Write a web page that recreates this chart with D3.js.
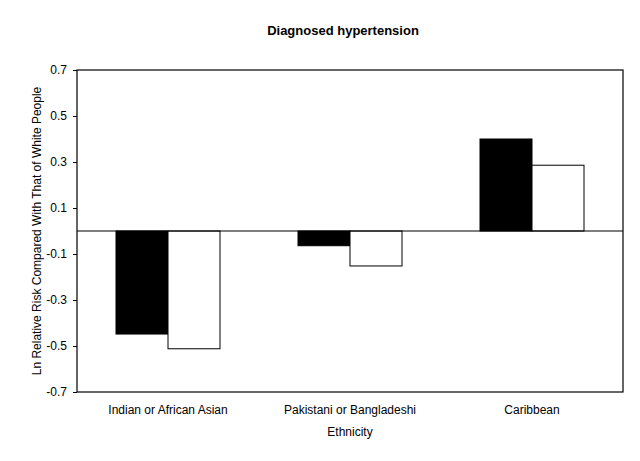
<!DOCTYPE html>
<html><head><meta charset="utf-8">
<script src="https://cdn.jsdelivr.net/npm/d3@7"></script>
<style>body{margin:0;background:#fff}svg{display:block}text{font-family:"Liberation Sans",Arial,sans-serif;fill:#000}</style>
</head><body>
<script>
const categories = ["Indian or African Asian", "Pakistani or Bangladeshi", "Caribbean"];
const seriesNames = ["Series A", "Series B"];
const seriesA = [-0.448, -0.064, 0.400];
const seriesB = [-0.512, -0.152, 0.286];
const yTicks = [-0.7, -0.5, -0.3, -0.1, 0.1, 0.3, 0.5, 0.7];
const title = "Diagnosed hypertension";
const xTitle = "Ethnicity";
const yTitle = "Ln Relative Risk Compared With That of White People";

const W = 640, H = 461;
const m = {l: 77, r: 17, t: 70, b: 69};
const svg = d3.select("body").append("svg").attr("width", W).attr("height", H);
const x0 = d3.scaleBand().domain(categories).range([m.l, W - m.r]).padding(0);
const x1 = d3.scaleBand().domain(seriesNames).range([0, x0.bandwidth()]).paddingInner(0).paddingOuter(0.75);
const y = d3.scaleLinear().domain([-0.7, 0.7]).range([H - m.b, m.t]);

const colors = {"Series A": "#000", "Series B": "#fff"};
const data = categories.map((c, i) => ({c, vals: [{s: "Series A", v: seriesA[i]}, {s: "Series B", v: seriesB[i]}]}));

const g = svg.append("g").selectAll("g").data(data).join("g")
  .attr("transform", d => `translate(${x0(d.c)},0)`);
g.selectAll("rect").data(d => d.vals).join("rect")
  .attr("x", d => x1(d.s)).attr("width", x1.bandwidth())
  .attr("y", d => y(Math.max(0, d.v))).attr("height", d => Math.abs(y(d.v) - y(0)))
  .attr("fill", d => colors[d.s]).attr("stroke", "#000").attr("stroke-width", 1);

// zero line
svg.append("line").attr("x1", m.l).attr("x2", W - m.r).attr("y1", y(0)).attr("y2", y(0))
  .attr("stroke", "#000").attr("stroke-width", 1.2);

// frame
svg.append("rect").attr("x", m.l).attr("y", m.t).attr("width", W - m.l - m.r).attr("height", H - m.t - m.b)
  .attr("fill", "none").attr("stroke", "#000").attr("stroke-width", 1.2);

const yAxis = svg.append("g").attr("transform", `translate(${m.l},0)`)
  .call(d3.axisLeft(y).tickValues(yTicks).tickSize(4).tickPadding(6).tickFormat(d => d.toFixed(1)));
yAxis.select(".domain").remove();
yAxis.selectAll("text").style("font-size", "12px").style("font-family", "Liberation Sans, Arial, sans-serif");

const xAxis = svg.append("g").attr("transform", `translate(0,${H - m.b})`)
  .call(d3.axisBottom(x0).tickSize(0).tickPadding(13));
xAxis.select(".domain").remove();
xAxis.selectAll("text").style("font-size", "12px").style("font-family", "Liberation Sans, Arial, sans-serif");

svg.append("text").attr("x", 343).attr("y", 35).attr("text-anchor", "middle")
  .style("font-size", "13px").style("font-weight", "bold").text(title);
svg.append("text").attr("x", (m.l + W - m.r) / 2).attr("y", 436).attr("text-anchor", "middle")
  .style("font-size", "12px").text(xTitle);
svg.append("text").attr("transform", `translate(41,${y(0)}) rotate(-90)`).attr("text-anchor", "middle")
  .style("font-size", "12px").text(yTitle);
</script>
</body></html>
